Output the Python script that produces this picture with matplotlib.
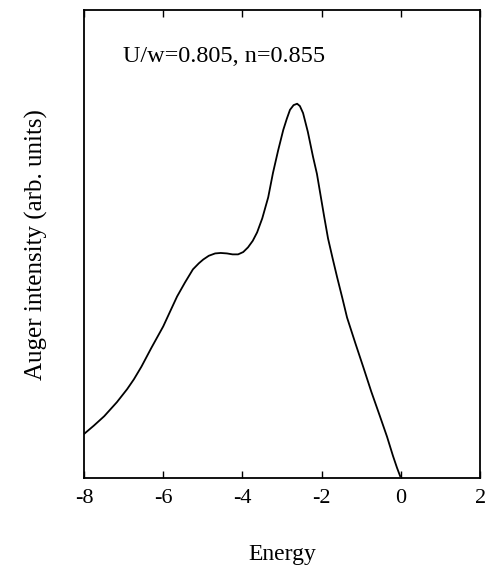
import matplotlib
matplotlib.use("Agg")
import matplotlib.pyplot as plt

plt.rcParams['font.family'] = ['Liberation Serif', 'DejaVu Serif']

# curve
energy = [-8.0, -7.75, -7.49, -7.17, -6.91, -6.74, -6.55, -6.3, -6.0, -5.82, -5.65,
          -5.45, -5.25, -5.1, -4.99, -4.85, -4.69, -4.55, -4.39, -4.25, -4.11,
          -3.98, -3.86, -3.74, -3.63, -3.5, -3.35, -3.23, -3.1, -2.97, -2.88,
          -2.8, -2.71, -2.62, -2.55, -2.47, -2.35, -2.22, -2.12, -2.04, -1.94,
          -1.84, -1.72, -1.61, -1.48, -1.36, -1.15, -0.95, -0.75, -0.53, -0.35,
          -0.2, -0.1, -0.02]
intensity = [0.094, 0.112, 0.132, 0.162, 0.190, 0.211, 0.238, 0.278, 0.324, 0.357, 0.388,
             0.418, 0.446, 0.459, 0.467, 0.475, 0.480, 0.481, 0.480, 0.478, 0.478,
             0.483, 0.493, 0.507, 0.525, 0.555, 0.60, 0.652, 0.70, 0.744, 0.768,
             0.787, 0.797, 0.800, 0.795, 0.780, 0.74, 0.687, 0.65, 0.610, 0.56,
             0.512, 0.468, 0.429, 0.385, 0.343, 0.288, 0.237, 0.185, 0.132, 0.088,
             0.047, 0.022, 0.004]

xticks = [-8, -6, -4, -2, 0, 2]
label_text = "U/w=0.805, n=0.855"

fig = plt.figure(figsize=(4.94, 5.65), dpi=100)
ax = fig.add_axes([0.170, 0.154, 0.802, 0.828])
ax.plot(energy, intensity, color='black', lw=1.3)

ax.set_xlim(-8, 2)
ax.set_ylim(0, 1)
ax.set_xticks(xticks)
ax.set_xticklabels([str(t) for t in xticks], fontsize=16)
ax.set_yticks([])
ax.tick_params(axis='x', direction='in', top=True, length=5, width=1, pad=8)
for s in ax.spines.values():
    s.set_linewidth(1.3)

ax.text(0.098, 0.90, label_text, transform=ax.transAxes, fontsize=17.5, va='center')
ax.set_xlabel('Energy', fontsize=17, labelpad=26)
ax.set_ylabel('Auger intensity (arb. units)', fontsize=18, labelpad=26)

fig.savefig('out.png', dpi=100)
